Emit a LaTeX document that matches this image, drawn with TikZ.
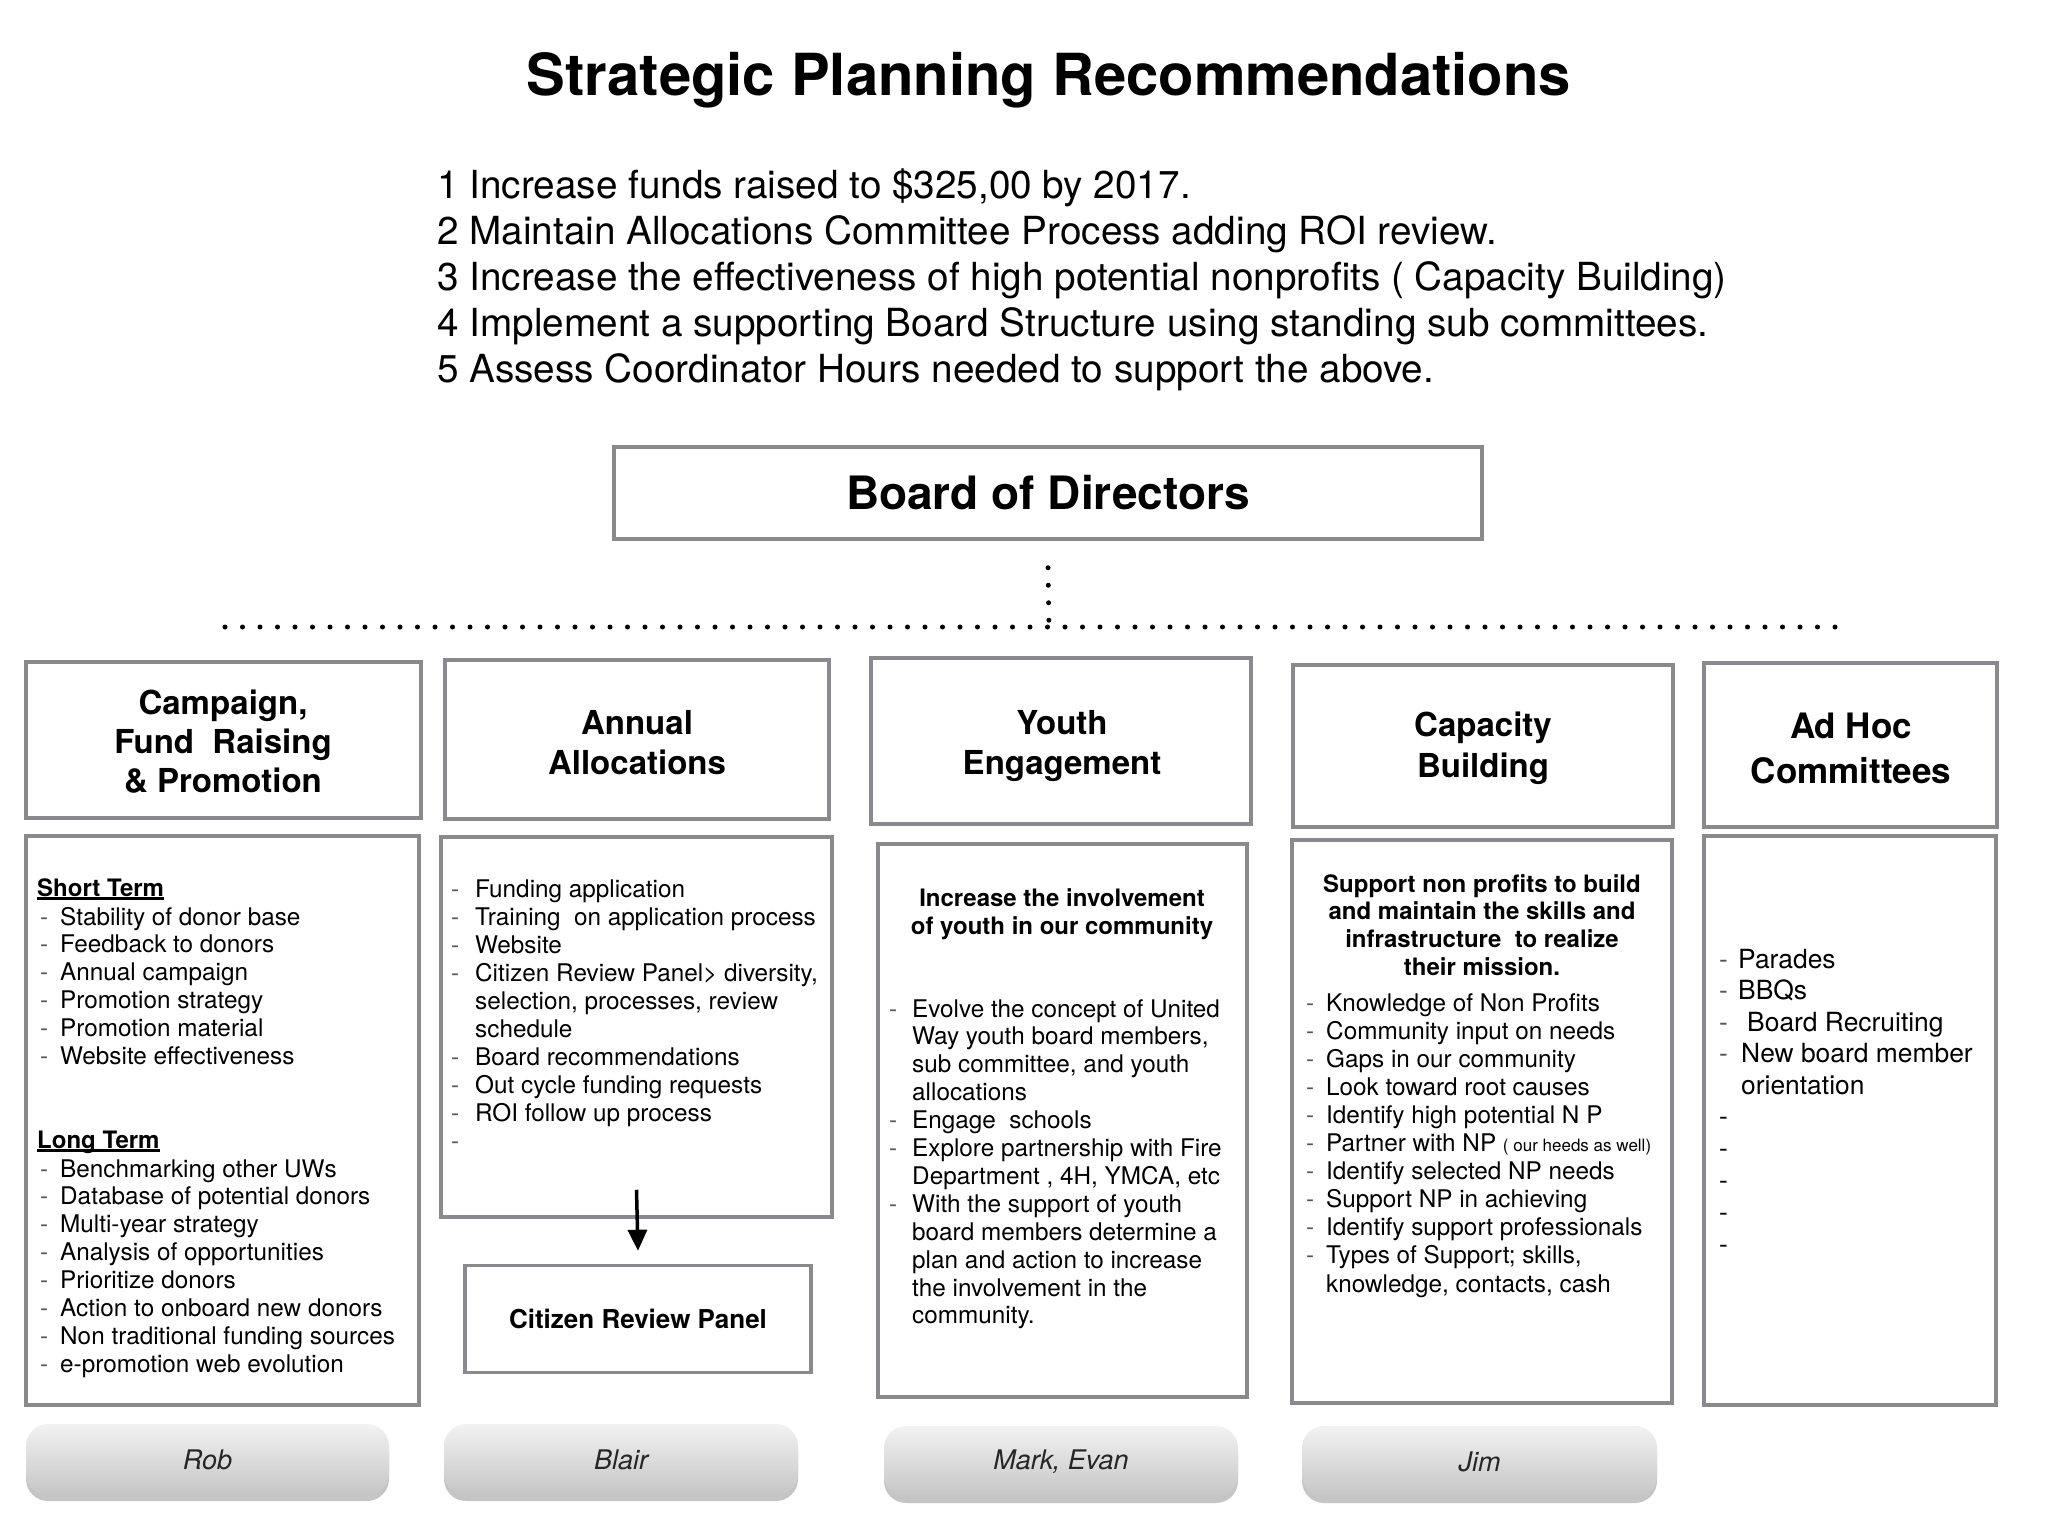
\documentclass[tikz,border=0pt]{standalone}
\usepackage{fontspec}
\setmainfont{TeX Gyre Heros}
\usetikzlibrary{arrows.meta,shadows}
\definecolor{boxgray}{HTML}{8A8A8E}
\definecolor{dashc}{HTML}{555555}
\newcommand\dd[1]{\makebox[#1pt][l]{\textcolor{dashc}{-}}}
\newcommand\dc[1]{\hspace*{#1pt}}
\newcommand\ulx[1]{\setbox0\hbox{#1}\rlap{\rule[-3.5pt]{\wd0}{2.2pt}}\box0}
\newcommand\blk[6]{\foreach \lt [count=\i] in {#6}{\node[#1,anchor=base west] (#2-\i) at (#3,{#4+#5*(\i-1)}) {\lt};}}
\begin{document}
\begin{tikzpicture}[x=1pt,y=-1pt,
 box/.style={draw=boxgray,line width=3.5pt,fill=white,inner sep=0pt},
 txt/.style={inner sep=0pt,font=\fontsize{24.3}{28}\selectfont},
 txtb/.style={inner sep=0pt,font=\fontsize{24}{28}\selectfont\bfseries},
 txtl/.style={inner sep=0pt,font=\fontsize{26.4}{31}\selectfont},
 hdr/.style={align=center,inner sep=0pt,font=\fontsize{33}{39}\selectfont\bfseries},
 pill/.style={rounded corners=22pt,top color=white!95!black,bottom color=white!77!black,draw=none,
   drop shadow={shadow xshift=0pt,shadow yshift=-5pt,opacity=0.5,fill=black!45},
   minimum height=72pt,inner sep=0pt,font=\fontsize{27}{32}\selectfont\itshape,text=black!85},
 dotline/.style={line width=5pt,line cap=round,dash pattern=on 0pt off 17.5pt},
 arr/.style={line width=3.5pt,-{Triangle[length=21pt,width=19pt]}}
]
\fill[white] (0,0) rectangle (2048,1536);
\useasboundingbox (0,0) rectangle (2048,1536);

% title
\node[inner sep=0pt,font=\fontsize{58}{70}\selectfont\bfseries] (title) at (1049,80) {Strategic Planning Recommendations};

% recommendations
\blk{inner sep=0pt,font=\fontsize{38.7}{46}\selectfont}{rec}{437}{198}{46}{%
{1 Increase funds raised to \$325,00 by 2017.},
{2 Maintain Allocations Committee Process adding ROI review.},
{3 Increase the effectiveness of high potential nonprofits ( Capacity Building)},
{4 Implement a supporting Board Structure using standing sub committees.},
{5 Assess Coordinator Hours needed to support the above.}}

% board
\node[box,minimum width=868pt,minimum height=92pt,font=\fontsize{46}{54}\selectfont\bfseries] (board) at (1048,493) {Board of Directors};

% dotted connectors
\coordinate (hj) at (1049,627);
\coordinate (hl) at (225,627);
\coordinate (hr) at (1835,627);
\draw[dotline] (hl) -- (hr);
\draw[dotline] ([yshift=-27pt]board.south) -- (hj);

% header boxes
\node[box,minimum width=395pt,minimum height=156pt] (h1) at (223.5,740) {};
\node[box,minimum width=384pt,minimum height=159pt] (h2) at (637,739.5) {};
\node[box,minimum width=380pt,minimum height=166pt] (h3) at (1061,741) {};
\node[box,minimum width=380pt,minimum height=162pt] (h4) at (1483,746) {};
\node[box,minimum width=293pt,minimum height=164pt] (h5) at (1850.5,745) {};

\node[hdr] (h1t) at (223,742) {Campaign,\\Fund~ Raising\\\& Promotion};
\node[hdr,font=\fontsize{33}{40}\selectfont\bfseries] (h2t) at (637,743) {Annual\\Allocations};
\node[hdr,font=\fontsize{33}{40}\selectfont\bfseries] (h3t) at (1062,746) {Youth\\Engagement};
\node[hdr,font=\fontsize{33}{41}\selectfont\bfseries] (h4t) at (1483,748) {Capacity\\Building};
\node[hdr,font=\fontsize{35}{45}\selectfont\bfseries] (h5t) at (1851,748) {Ad Hoc\\Committees};

% content boxes
\node[box,minimum width=393pt,minimum height=569pt] (c1) at (222.5,1120.5) {};
\node[box,minimum width=391pt,minimum height=380pt] (c2) at (636.5,1027) {};
\node[box,minimum width=369pt,minimum height=553pt] (c3) at (1062.5,1120.5) {};
\node[box,minimum width=380pt,minimum height=563pt] (c4) at (1482,1121.5) {};
\node[box,minimum width=292pt,minimum height=569pt] (c5) at (1850,1120.5) {};
\node[box,minimum width=346pt,minimum height=107pt,font=\fontsize{26}{31}\selectfont\bfseries] (crp) at (638,1319) {Citizen Review Panel};

\draw[arr] ([yshift=29pt]c2.south) -- ([yshift=13pt]crp.north);

% box 1
\node[txtb,anchor=base west] (st) at (37,896) {\ulx{Short Term}};
\blk{txt}{s}{40}{925}{27.8}{%
{\dd{20}Stability of donor base},
{\dd{20}Feedback to donors},
{\dd{20}Annual campaign},
{\dd{20}Promotion strategy},
{\dd{20}Promotion material},
{\dd{20}Website effectiveness}}
\node[txtb,anchor=base west] (lt) at (37,1148) {\ulx{Long Term}};
\blk{txt}{l}{40}{1177}{27.9}{%
{\dd{20}Benchmarking other UWs},
{\dd{20}Database of potential donors},
{\dd{20}Multi-year strategy},
{\dd{20}Analysis of opportunities},
{\dd{20}Prioritize donors},
{\dd{20}Action to onboard new donors},
{\dd{20}Non traditional funding sources},
{\dd{20}e-promotion web evolution}}

% box 2
\blk{txt}{a}{451}{897}{28}{%
{\dd{24}Funding application},
{\dd{24}Training\ \ on application process},
{\dd{24}Website},
{\dd{24}Citizen Review Panel> diversity,},
{\dc{24}selection, processes, review},
{\dc{24}schedule},
{\dd{24}Board recommendations},
{\dd{24}Out cycle funding requests},
{\dd{24}ROI follow up process},
{\dd{24}}}

% box 3
\node[txtb,anchor=base] (y1) at (1062,906) {Increase the involvement};
\node[txtb,anchor=base] (y2) at (1062,934) {of youth in our community};
\blk{txt}{y}{889}{1017}{27.9}{%
{\dd{23}Evolve the concept of United},
{\dc{23}Way youth board members,},
{\dc{23}sub committee, and youth},
{\dc{23}allocations},
{\dd{23}Engage\ \ schools},
{\dd{23}Explore partnership with Fire},
{\dc{23}Department , 4H, YMCA, etc},
{\dd{23}With the support of youth},
{\dc{23}board members determine a},
{\dc{23}plan and action to increase},
{\dc{23}the involvement in the},
{\dc{23}community.}}

% box 4
\node[txtb,anchor=base] (k1) at (1482,892) {Support non profits to build};
\node[txtb,anchor=base] (k2) at (1482,919.7) {and maintain the skills and};
\node[txtb,anchor=base] (k3) at (1482,947.4) {infrastructure\ \ to realize};
\node[txtb,anchor=base] (k4) at (1482,975.1) {their mission.};
\blk{txt}{c}{1306}{1011}{28.1}{%
{\dd{20}Knowledge of Non Profits},
{\dd{20}Community input on needs},
{\dd{20}Gaps in our community},
{\dd{20}Look toward root causes},
{\dd{20}Identify high potential N P},
{\dd{20}Partner with NP {\fontsize{17}{20}\selectfont ( our heeds as well)}},
{\dd{20}Identify selected NP needs},
{\dd{20}Support NP in achieving},
{\dd{20}Identify support professionals},
{\dd{20}Types of Support; skills,},
{\dc{20}knowledge, contacts, cash}}

% box 5
\blk{txtl}{d}{1719}{968}{31.5}{%
{\dd{19}Parades},
{\dd{19}BBQs},
{\dd{19}\hspace{9pt}Board Recruiting},
{\dd{22}New board member},
{\dc{22}orientation}}
\blk{txtl}{e}{1719}{1125.5}{32}{-,-,-,-,-}

% people
\node[pill,minimum width=363pt] (p1) at (207.5,1460) {Rob};
\node[pill,minimum width=354pt] (p2) at (621,1460) {Blair};
\node[pill,minimum width=354pt] (p3) at (1061,1462) {Mark, Evan};
\node[pill,minimum width=355pt] (p4) at (1479.5,1462) {Jim};
\end{tikzpicture}
\end{document}
